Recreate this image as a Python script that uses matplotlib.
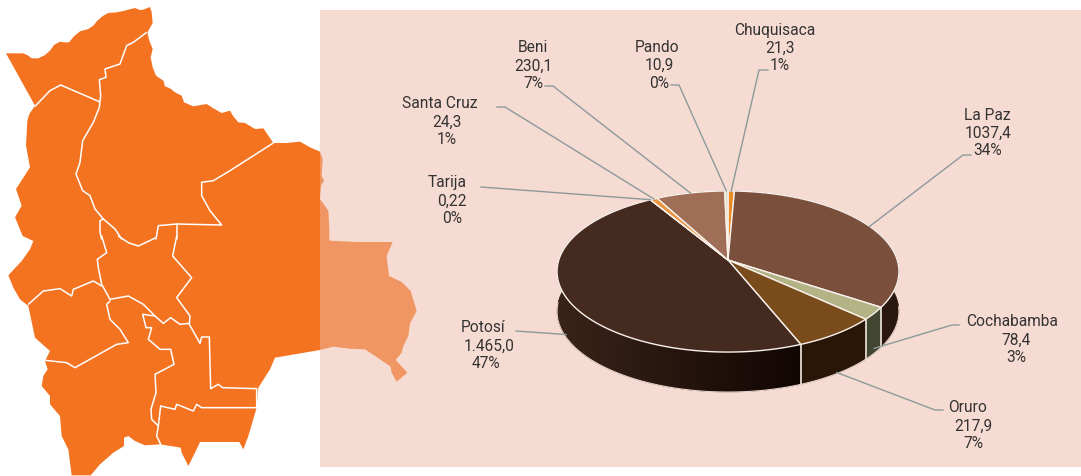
import numpy as np
import matplotlib
matplotlib.use("Agg")
import matplotlib.pyplot as plt
from matplotlib.colors import to_rgb
from matplotlib.patches import Polygon, Rectangle

plt.rcParams['font.family'] = ['Roboto', 'DejaVu Sans']

# pie data, clockwise from 12 o'clock
names = ['Chuquisaca', 'La Paz', 'Cochabamba', 'Oruro', 'Potosí', 'Tarija', 'Santa Cruz', 'Beni', 'Pando']
values = [21.3, 1037.4, 78.4, 217.9, 1465.0, 0.22, 24.3, 230.1, 10.9]
value_labels = ['21,3', '1037,4', '78,4', '217,9', '1.465,0', '0,22', '24,3', '230,1', '10,9']
pct_labels = ['1%', '34%', '3%', '7%', '47%', '0%', '1%', '7%', '0%']

top_colors = ['#E98A22', '#7A503D', '#B4B386', '#7A4B1B', '#452A20', '#E98A22', '#EB9440', '#A06E56', '#DEDBC2']
side_colors = ['#7A4A10', '#2A170E', '#42452F', '#2A1607', '#3A2418', '#7A4A10', '#7A4A10', '#50372B', '#6F6E61']

# text lines are not centred on one another in the original
name_x = [775, 987, 1012, 968, 483, 447, 440, 533, 657]
value_x = [780, 988, 1016, 973, 489, 452, 447, 533, 659]
pct_x = [780, 988, 1016, 973, 486, 452, 447, 533, 659]
name_y = [30, 115, 322, 408, 328, 183, 104, 48, 47]

# leader lines: start of the short stub, elbow, then down to the slice
stub_x = [768, 971, 959, 943, 516, 481, 497, 545, 671]
elbow_x = [759, 963, 952, 935, 516, 481, 505, 553, 679]
elbow_y = [71, 156, 326, 411, 332, 188, 108, 87, 86]
leader_drop = [0, 0, 35, 39, 37, 0, 0, 0, 0]

# traced map, in 3x crop pixels (north crop then south crop offset by 711)
outline_n = [(18,163),(45,163),(70,163),(85,170),(95,178),(115,178),(135,168),(150,155),(162,138),(180,128),
             (190,130),(207,130),(222,112),(240,97),(265,90),(280,80),(292,65),(310,50),(325,42),(350,40),
             (375,35),(385,32),(405,27),(420,33),(430,32),(450,24),(455,40),(458,72),(445,95),(443,105),
             (448,125),(458,150),(452,175),(458,205),(468,230),(490,245),(495,262),(510,268),(525,280),(545,290),
             (552,310),(580,322),(620,315),(640,328),(665,342),(690,335),(700,352),(715,370),(735,372),(745,378),
             (765,390),(790,388),(805,410),(820,432),(860,432),(900,428),(930,445),(960,458),(968,480),(965,530),
             (972,545),(963,560),(960,600),(985,635),(988,690)]
outline_s = [(988,14),(1070,18),(1178,18),(1160,60),(1167,120),(1205,138),(1232,165),(1250,225),(1230,262),(1225,300),
             (1210,330),(1205,350),(1187,372),(1222,410),(1190,437),(1175,410),(1172,392),(1140,370),(1095,340),(1050,338),
             (1000,332),(960,342),(825,365),(810,400),(775,455),(770,515),(745,600),(730,640),(718,618),(600,618),
             (585,650),(565,690),(545,650),(542,635),(480,625),(435,628),(405,615),(385,600),(372,605),(372,630),
             (340,650),(300,685),(272,718),(215,718),(205,640),(185,600),(180,540),(150,505),(150,480),(125,450),
             (130,420),(143,400),(135,375),(150,345),(105,305),(85,210),(60,190),(40,155),(25,118),(65,75),
             (90,40),(100,15),(68,0)]
outline_n2 = [(45,655),(65,620),(48,570),(90,505),(78,440),(82,365),(88,345),(105,320)]

borders_n = [
    [(105,322),(150,275),(182,258),(298,308)],
    [(440,100),(400,130),(380,140),(360,195),(315,210),(318,235),(298,242),(302,290),(298,325),(280,370),
     (248,425),(240,490),(228,525),(248,575),(270,590),(285,630),(310,660),(345,690),(365,720)],
    [(820,432),(690,515),(640,545),(605,550),(605,590),(630,635),(665,678),(530,675),(475,680),(468,720)],
    [(530,675),(530,720)],
    [(310,660),(300,665),(300,700),(305,720)],
]
borders_s = [
    [(530,0),(518,60),(575,125),(530,185),(570,240),(568,265),(600,322),(605,303),(628,303),(632,458),(655,445),(668,455),(770,458),(770,515)],
    [(355,0),(385,20),(415,30),(468,5)],
    [(305,0),(320,50),(292,70),(295,95),(303,135),(305,145),(330,190),(385,180),(430,205),(465,240),(490,262),(512,245),(540,265),(568,262)],
    [(85,205),(130,165),(180,158),(215,180),(220,160),(280,135),(305,150)],
    [(330,195),(320,205),(330,250),(360,280),(385,320),(350,325),(225,395),(200,380),(135,373)],
    [(465,240),(428,235),(438,275),(455,275),(445,310),(480,340),(512,340),(522,385),(465,415),(468,470),(453,520),(455,550),(475,570),(470,600),(482,625)],
    [(475,570),(482,510),(525,520),(530,505),(580,525),(590,505),(605,515),(770,515)],
]

def north(pts):
    return [(x/3, y/3) for x, y in pts]

def south(pts):
    return [(x/3, 237 + y/3) for x, y in pts]

# pie projection: disc tilted with perspective, apex sits above the ellipse centre
APEX_X, APEX_Y = 728, 261
A, B, K = 169.2, 78.9, 1/7
DEPTH = 40

def rim(phi):
    u, v = np.sin(phi), np.cos(phi)
    w = 1 + K*v
    return APEX_X + A*u/w, APEX_Y - B*v/w

fig = plt.figure(figsize=(10.81, 4.77), dpi=100)
ax = fig.add_axes([0, 0, 1, 1])
ax.axis('off')

ax.add_patch(Rectangle((320, 11), 761, 457, fc='#F6DBD2', ec='none', zorder=0))

# map: same shape twice, full orange left of the panel, paler over it
shape = north(outline_n) + south(outline_s) + north(outline_n2)
left = Polygon(shape, fc='#F47321', ec='none', zorder=1)
ax.add_patch(left)
left.set_clip_path(Rectangle((0, 0), 320, 477, transform=ax.transData))
right = Polygon(shape, fc='#F09662', ec='none', zorder=1)
ax.add_patch(right)
right.set_clip_path(Rectangle((320, 0), 761, 477, transform=ax.transData))

for line in [north(b) for b in borders_n] + [south(b) for b in borders_s]:
    xs, ys = zip(*line)
    ax.plot(xs, ys, color='white', lw=1.1, zorder=2, solid_capstyle='round')

# slice angles from the values
fracs = np.array(values) / sum(values)
edges = np.concatenate([[0], np.cumsum(fracs)]) * 2*np.pi
mids = (edges[:-1] + edges[1:]) / 2

# side wall first, the top faces cover whatever is at the back
for i in range(len(values)):
    phis = np.linspace(edges[i], edges[i+1], max(3, int(np.degrees(edges[i+1]-edges[i]))))
    upper = [rim(p) for p in phis]
    lower = [(x, y+DEPTH) for x, y in upper[::-1]]
    wall = Polygon(upper + lower, fc=side_colors[i], ec=side_colors[i], lw=0.4, zorder=3)
    ax.add_patch(wall)
    if names[i] == 'Potosí':
        # darkens towards the front right
        ramp = np.linspace(to_rgb('#3A2418'), to_rgb('#120604'), 256)[np.newaxis, :, :]
        im = ax.imshow(ramp, extent=(557, 800, 400, 270), aspect='auto', zorder=3.5)
        im.set_clip_path(wall)

front = np.linspace(np.radians(95), np.radians(268), 120)
xf, yf = zip(*[rim(p) for p in front])
ax.plot(xf, np.array(yf)+DEPTH, color='#E8D5CC', lw=0.8, zorder=4)
for i in range(len(values)):
    x0, y0 = rim(edges[i])
    if y0 > APEX_Y + 30 and x0 < 890:
        ax.plot([x0, x0], [y0, y0+DEPTH], color='#EFE6DF', lw=1.2, zorder=4)

for i in range(len(values)):
    phis = np.linspace(edges[i], edges[i+1], max(3, int(np.degrees(edges[i+1]-edges[i]))))
    pts = [(APEX_X, APEX_Y)] + [rim(p) for p in phis]
    ax.add_patch(Polygon(pts, fc=top_colors[i], ec='#F9F1EC', lw=1.0, joinstyle='round', zorder=5))

# leader lines and labels
for i in range(len(values)):
    end_x, end_y = rim(mids[i])
    ax.plot([stub_x[i], elbow_x[i], end_x], [elbow_y[i], elbow_y[i], end_y + leader_drop[i]],
            color='#8C9A9C', lw=1.0, zorder=6)
    ax.text(name_x[i], name_y[i], names[i], ha='center', va='center', fontsize=11.2, color='#333333', zorder=7)
    ax.text(value_x[i], name_y[i] + 18, value_labels[i], ha='center', va='center', fontsize=11.2, color='#333333', zorder=7)
    ax.text(pct_x[i], name_y[i] + 36, pct_labels[i], ha='center', va='center', fontsize=11.2, color='#333333', zorder=7)

ax.set_xlim(0, 1081)
ax.set_ylim(477, 0)

fig.savefig('out.png', dpi=100)
